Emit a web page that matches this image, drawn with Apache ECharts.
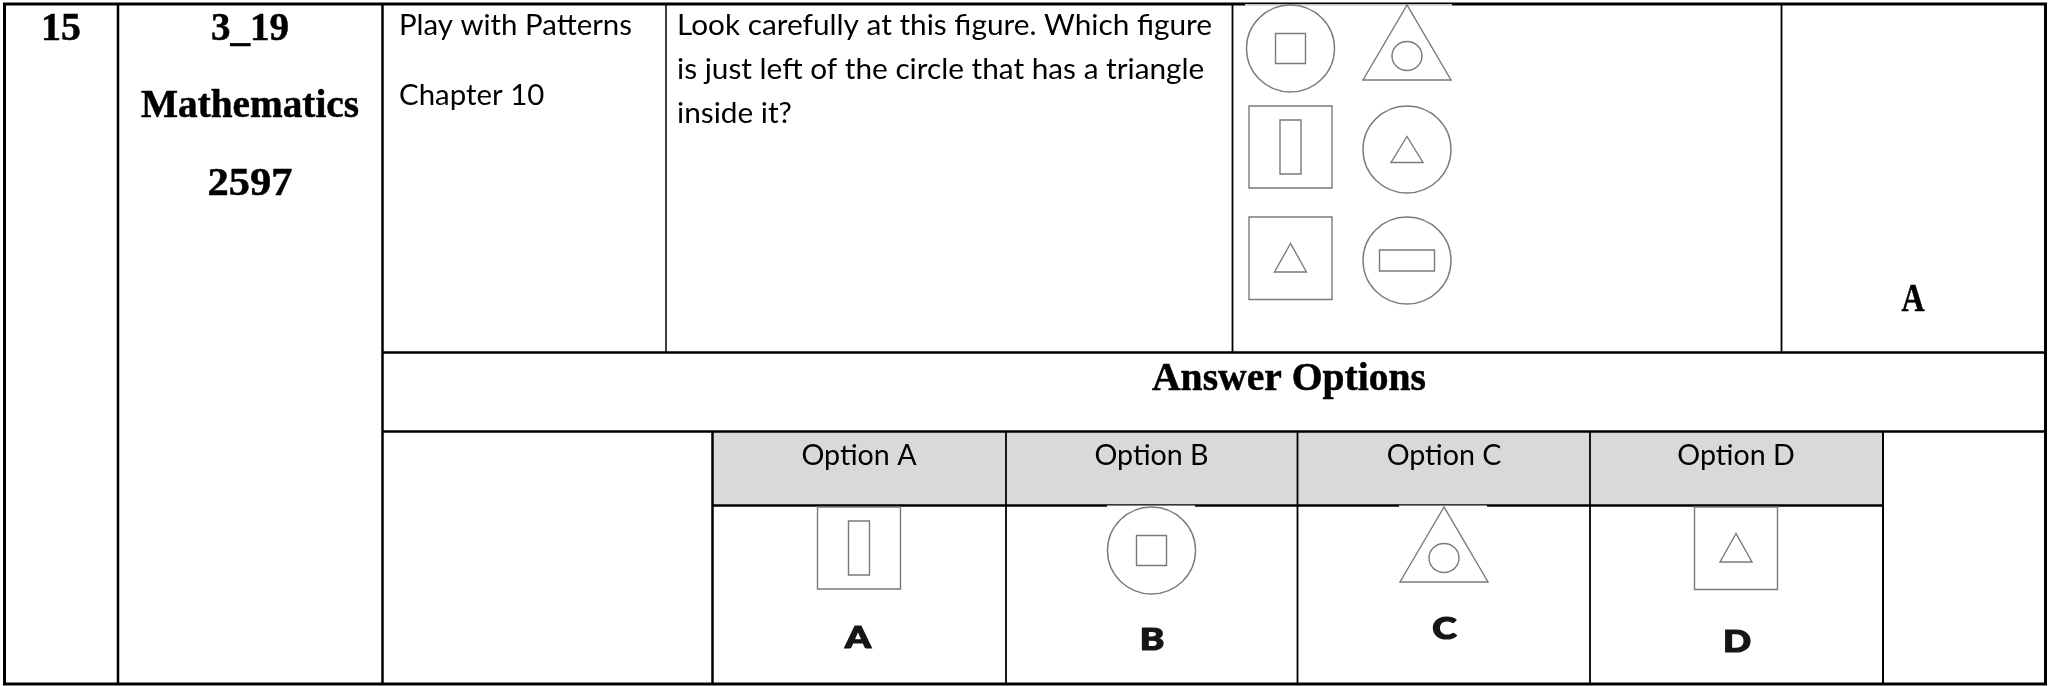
<!DOCTYPE html>
<html><head><meta charset="utf-8">
<script src="https://cdn.jsdelivr.net/npm/echarts@6/dist/echarts.min.js"></script>
<style>html,body{margin:0;padding:0;background:#fff}#c{width:2049px;height:686px}</style>
</head><body><div id="c"></div>
<script>
// ---------- DATA ----------
const rowNumber = '15';
const metaLines = ['3_19', 'Mathematics', '2597'];
const topicLines = ['Play with Patterns', 'Chapter 10'];
const questionLines = [
  'Look carefully at this figure. Which figure',
  'is just left of the circle that has a triangle',
  'inside it?'
];
const answerKey = 'A';
const sectionTitle = 'Answer Options';
const optionHeaders = ['Option A', 'Option B', 'Option C', 'Option D'];
const optionLetters = ['A', 'B', 'C', 'D'];
const figureGrid = [
  ['circleSquare', 'triangleCircle'],
  ['squareBar', 'circleTriangle'],
  ['squareTriangle', 'circleWideBar']
];
const optionFigures = ['squareBar', 'circleSquare', 'triangleCircle', 'squareTriangle'];

// ---------- LAYOUT ----------
const W = 2049, H = 686;
const L = {
  border: { x1: 4.5, y1: 4, x2: 2045.5, y2: 684, lw: 3 },
  colNum: 118, colMeta: 382.5, colTopic: 666, colQuestion: 1232.5, colFigure: 1781.5,
  rowQuestion: 352.5, rowTitle: 431.5,
  optLeft: 712.5, optCols: [1006, 1297.5, 1590], optRight: 1883, optHeadBottom: 505.5,
  optCenters: [859, 1151.5, 1444, 1736],
  figCols: [1290.5, 1407], figRowTops: [5, 106, 217], optFigTop: 507
};
const STYLE = {
  serif: { family: '"Liberation Serif"', weight: 'bold', cap: 25.5, color: '#000', stroke: 0.5 },
  body: { family: 'Lato', weight: 'normal', cap: 20.5, color: '#000', stroke: 0 },
  head: { family: 'Lato', weight: 'normal', cap: 20.5, color: '#000', stroke: 0 },
  letter: { family: 'Lato', weight: '900', cap: 22.5, color: '#151515', stroke: 1.2 },
  shape: '#7a7a7a', header: '#d9d9d9'
};

const mctx = document.createElement('canvas').getContext('2d');
const capCache = {};
function capRatio(st) {
  const k = st.family + st.weight;
  if (!(k in capCache)) {
    mctx.font = st.weight + ' 100px ' + st.family;
    mctx.textBaseline = 'alphabetic';
    capCache[k] = mctx.measureText('H').actualBoundingBoxAscent / 100;
  }
  return capCache[k];
}
function measure(str, st) {
  const size = st.cap / capRatio(st);
  mctx.font = st.weight + ' ' + size + 'px ' + st.family;
  mctx.textBaseline = 'alphabetic';
  const a = mctx.measureText(str);
  mctx.textBaseline = 'middle';
  const b = mctx.measureText(str);
  return { size: size, w: a.width, midOff: a.actualBoundingBoxAscent - b.actualBoundingBoxAscent };
}

function renderItem(params, api) {
  const P = (x, y) => api.coord([x, y]);
  const ch = [];
  const line = (x1, y1, x2, y2, lw, c) => {
    const a = P(x1, y1), b = P(x2, y2);
    ch.push({ type: 'line', shape: { x1: a[0], y1: a[1], x2: b[0], y2: b[1] }, style: { stroke: c || '#000', lineWidth: lw } });
  };
  const rect = (x1, y1, x2, y2, style) => {
    const a = P(x1, y1), b = P(x2, y2);
    ch.push({ type: 'rect', shape: { x: a[0], y: a[1], width: b[0] - a[0], height: b[1] - a[1] }, style: style });
  };
  const ell = (cx, cy, rx, ry) => {
    const c = P(cx, cy);
    ch.push({ type: 'ellipse', shape: { cx: c[0], cy: c[1], rx: rx, ry: ry }, style: { fill: 'none', stroke: STYLE.shape, lineWidth: 1.4 } });
  };
  const tri = (cx, top, hw, h) => {
    const pts = [P(cx, top), P(cx - hw, top + h), P(cx + hw, top + h)];
    ch.push({ type: 'polygon', shape: { points: pts }, style: { fill: 'none', stroke: STYLE.shape, lineWidth: 1.4 } });
  };
  const box = (x1, y1, x2, y2) => rect(x1, y1, x2, y2, { fill: 'none', stroke: STYLE.shape, lineWidth: 1.4 });
  const text = (str, st, x, baseline, align, sx) => {
    const m = measure(str, st);
    const p = P(x, baseline);
    const style = { text: str, fontFamily: st.family, fontWeight: st.weight, fontSize: m.size, fill: st.color,
      align: align, textAlign: align, verticalAlign: 'middle', textVerticalAlign: 'middle' };
    if (st.stroke) { style.stroke = st.color; style.lineWidth = st.stroke; }
    ch.push({ type: 'text', x: p[0], y: p[1] - m.midOff, scaleX: sx, scaleY: 1, style: style });
  };
  const fitScale = (str, st, w) => w / measure(str, st).w;

  function figure(kind, cx, top) {
    if (kind === 'circleSquare') { const cy = top + 43.5; ell(cx, cy, 44, 43.5); box(cx - 15, cy - 15, cx + 15, cy + 15); }
    if (kind === 'triangleCircle') { tri(cx, top, 44, 75); ell(cx, top + 51, 15, 14.5); }
    if (kind === 'squareBar') { box(cx - 41.5, top, cx + 41.5, top + 82); box(cx - 10.5, top + 14, cx + 10.5, top + 68); }
    if (kind === 'circleTriangle') { const cy = top + 43.5; ell(cx, cy, 44, 43.5); tri(cx, cy - 13, 16, 26); }
    if (kind === 'squareTriangle') { box(cx - 41.5, top, cx + 41.5, top + 82.5); tri(cx, top + 26.5, 16, 28.5); }
    if (kind === 'circleWideBar') { const cy = top + 43.5; ell(cx, cy, 44, 43.5); box(cx - 27.5, cy - 10.5, cx + 27.5, cy + 10.5); }
  }

  // header fill
  rect(L.optLeft, 432, L.optRight, L.optHeadBottom, { fill: STYLE.header });
  // outer border
  const B = L.border;
  rect(B.x1, B.y1, B.x2, B.y2, { fill: 'none', stroke: '#000', lineWidth: B.lw });
  // verticals
  line(L.colNum, B.y1, L.colNum, B.y2, 2.5);
  line(L.colMeta, B.y1, L.colMeta, B.y2, 2.5);
  line(L.colTopic, B.y1, L.colTopic, L.rowQuestion, 1.5);
  line(L.colQuestion, B.y1, L.colQuestion, L.rowQuestion, 1.8);
  line(L.colFigure, B.y1, L.colFigure, L.rowQuestion, 1.8);
  // rows
  line(L.colMeta, L.rowQuestion, B.x2, L.rowQuestion, 2.5);
  line(L.colMeta, L.rowTitle, B.x2, L.rowTitle, 2.5);
  // options table
  line(L.optLeft, L.rowTitle, L.optLeft, B.y2, 2.5);
  L.optCols.forEach(x => line(x, L.rowTitle, x, B.y2, 1.8));
  line(L.optRight, L.rowTitle, L.optRight, B.y2, 2);
  line(L.optLeft, L.optHeadBottom, L.optRight, L.optHeadBottom, 2.5);

  // figure pictures (white image edges over borders)
  rect(1245, 4.2, 1452, 5.7, { fill: '#fff' });
  rect(1107, 505.6, 1195, 507, { fill: '#fff' });
  rect(1399, 505.6, 1487, 507, { fill: '#fff' });
  figureGrid.forEach((row, r) => row.forEach((kind, c) => figure(kind, L.figCols[c], L.figRowTops[r])));
  optionFigures.forEach((kind, i) => figure(kind, L.optCenters[i], L.optFigTop));

  // serif bold texts
  const S = STYLE.serif;
  text(rowNumber, S, 61, 40, 'center', fitScale(rowNumber, S, 40));
  const metaBase = [40, 117, 195], metaW = [78, 218, 85];
  metaLines.forEach((t, i) => text(t, S, 250, metaBase[i], 'center', fitScale(t, S, metaW[i])));
  text(sectionTitle, S, 1289, 390, 'center', fitScale(sectionTitle, S, 274));
  text(answerKey, S, 1913, 311, 'center', fitScale(answerKey, S, 23));

  // body texts
  const Bd = STYLE.body;
  const topicScale = fitScale(topicLines[0], Bd, 233);
  const topicBase = [35, 105];
  topicLines.forEach((t, i) => text(t, Bd, 399, topicBase[i], 'left', topicScale));
  const qScale = fitScale(questionLines[0], Bd, 535);
  const qBase = [35, 79, 123];
  questionLines.forEach((t, i) => text(t, Bd, 677, qBase[i], 'left', qScale));

  // option headers and letters
  const Hd = STYLE.head;
  const hScale = fitScale(optionHeaders[0], Hd, 115);
  optionHeaders.forEach((t, i) => text(t, Hd, L.optCenters[i], 465, 'center', hScale));
  const Lt = STYLE.letter;
  const lScale = fitScale(optionLetters[0], Lt, 26);
  const letterBase = [648, 650, 639, 652];
  const letterX = [858, 1152, 1444.5, 1737];
  optionLetters.forEach((t, i) => text(t, Lt, letterX[i], letterBase[i], 'center', lScale));

  return { type: 'group', children: ch };
}

const chart = echarts.init(document.getElementById('c'), null, { renderer: 'canvas', width: W, height: H });
chart.setOption({
  animation: false,
  backgroundColor: '#fff',
  grid: { left: 0, right: 0, top: 0, bottom: 0 },
  xAxis: { type: 'value', min: 0, max: W, show: false },
  yAxis: { type: 'value', min: 0, max: H, inverse: true, show: false },
  series: [{ type: 'custom', coordinateSystem: 'cartesian2d', clip: false, silent: true,
    data: [[0, 0]], renderItem: renderItem }]
});
</script>
</body></html>
